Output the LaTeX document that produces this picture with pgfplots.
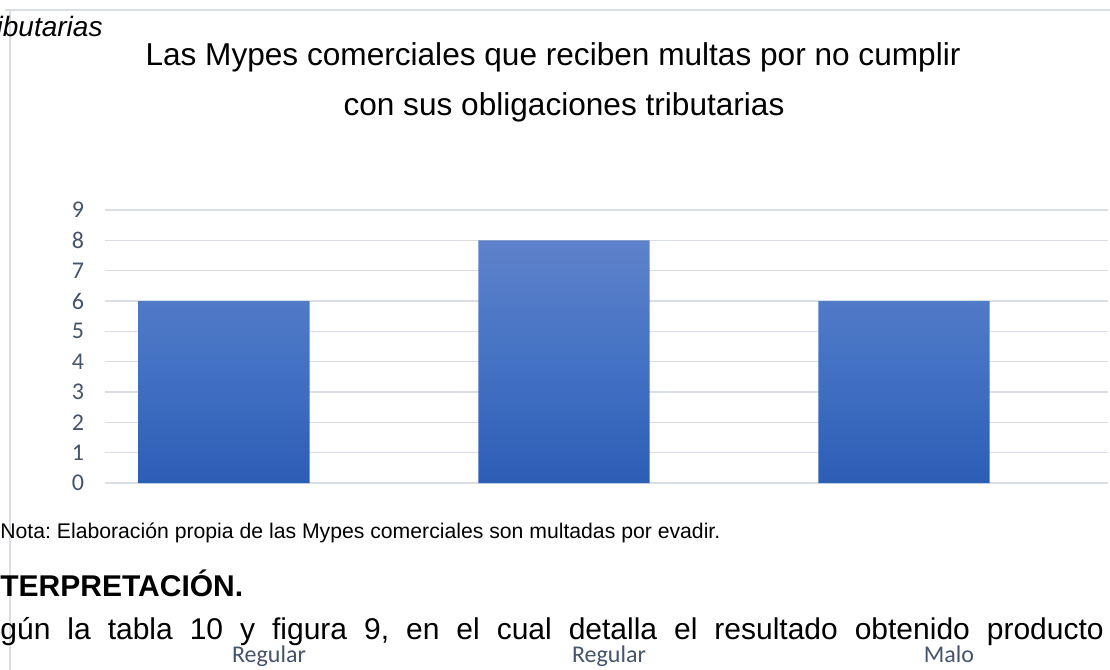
\documentclass[border=0pt]{standalone}
\usepackage{fontspec}
\setmainfont{Liberation Sans}
\newfontfamily\calibri{Carlito}
\usepackage{pgfplots}
\pgfplotsset{compat=1.18}
\definecolor{gridc}{HTML}{D9DDE4}
\definecolor{tickc}{HTML}{44546A}
\definecolor{bartop}{HTML}{5E82CA}
\definecolor{barmid}{HTML}{4472C4}
\definecolor{barbot}{HTML}{2C5EB6}
\begin{document}
\frenchspacing
\begin{tikzpicture}
\useasboundingbox (0,0) rectangle (555pt,335pt);
\draw[gridc, line width=0.75pt] (2.5pt,330pt) -- (555pt,330pt);
\draw[gridc, line width=0.75pt] (5pt,330pt) -- (5pt,0pt);
\begin{axis}[
 at={(52.5pt,93.5pt)}, anchor=south west,
 scale only axis, width=501.5pt, height=136.5pt,
 xmin=-0.35, xmax=2.6, ymin=0, ymax=9,
 axis line style={draw=none},
 major tick length=0pt,
 ytick={0,...,9},
 ymajorgrids, grid style={gridc, line width=0.75pt},
 xtick={0,1,2}, xticklabels={Regular,Regular,Malo},
 ticklabel style={font=\calibri\fontsize{12}{14}\selectfont, text=tickc},
 xticklabel style={yshift=-78pt, xshift=22.5pt},
 yticklabel style={xshift=-7pt},
 /pgf/number format/assume math mode=true,
 clip=false,
]
\addplot[ybar, bar width=0.503, draw=none, top color=bartop, bottom color=barbot, middle color=barmid] coordinates {(0,6) (1,8) (2,6)};
\end{axis}
\node[anchor=east, inner sep=0, font=\itshape\fontsize{14}{16}\selectfont] at (51.5pt,320.5pt) {obligaciones tributarias};
\node[inner sep=0, font=\fontsize{15.8}{19}\selectfont] at (276.5pt,306.5pt) {Las Mypes comerciales que reciben multas por no cumplir};
\node[inner sep=0, font=\fontsize{15.8}{19}\selectfont] at (282pt,281.5pt) {con sus obligaciones tributarias};
\node[anchor=west, inner sep=0, font=\fontsize{10.6}{12}\selectfont] at (0pt,68.5pt) {Nota: Elaboración propia de las Mypes comerciales son multadas por evadir.};
\node[anchor=west, inner sep=0, font=\bfseries\fontsize{15}{18}\selectfont] at (-15pt,43.5pt) {INTERPRETACIÓN.};
\node[anchor=west, inner sep=0, font=\fontsize{15}{18}\selectfont] at (-18.3pt,19pt) {\makebox[570pt][s]{Según la tabla 10 y figura 9, en el cual detalla el resultado obtenido producto}};
\end{tikzpicture}
\end{document}
